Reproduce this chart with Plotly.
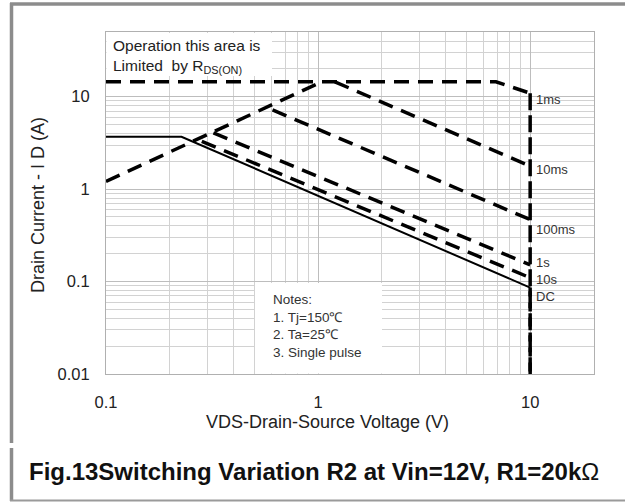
import numpy as np
import plotly.graph_objects as go

# ---------------- data ----------------
rds_v = [0.1, 1.04]
rds_i = [1.21, 14.5]

ms1_v = [0.1, 6.9, 10]
ms1_i = [14.5, 14.5, 10.9]
ms10_v = [1.2, 10]
ms10_i = [14.5, 1.77]
ms100_v = [0.61, 10]
ms100_i = [7.2, 0.468]
s1_v = [0.321, 10]
s1_i = [4.06, 0.152]
s10_v = [0.283, 10]
s10_i = [3.29, 0.11]
dc_v = [0.1, 0.227, 10]
dc_i = [3.69, 3.69, 0.086]
i_floor = 0.01  # bottom of the drop at the 10 V limit

curve_labels = ["1ms", "10ms", "100ms", "1s", "10s", "DC"]
label_i = [9.3, 1.63, 0.37, 0.16, 0.105, 0.069]

x_ticks = [0.1, 1, 10]
x_tick_text = ["0.1", "1", "10"]
y_ticks = [0.01, 0.1, 1, 10]
y_tick_text = ["0.01", "0.1", "1", "10"]

notes_lines = ["Notes:", "1. Tj=150℃", "2. Ta=25℃", "3. Single pulse"]
limit_text = ["Operation this area is", "Limited  by R<sub>DS(ON)</sub>"]
x_title = "VDS-Drain-Source Voltage (V)"
y_title = "Drain Current - I D (A)"
fig_title = "Fig.13Switching Variation R2 at Vin=12V, R1=20k<span style='font-weight:normal'>Ω</span>"

# ---------------- layout geometry ----------------
W, H = 625, 502
ML, MR, MT, MB = 106, 31, 32, 128
PW, PH = W - ML - MR, H - MT - MB


def px(x):
    return (x - ML) / PW


def py(y):
    return (H - MB - y) / PH


FONT = "Liberation Sans, Arial, Helvetica, sans-serif"
DASH = "15px,9px"

fig = go.Figure()

dashed_sets = [(rds_v, rds_i), (ms1_v, ms1_i), (ms10_v, ms10_i), (ms100_v, ms100_i),
               (s1_v, s1_i), (s10_v, s10_i)]
for v, i in dashed_sets:
    fig.add_trace(go.Scatter(x=v, y=i, mode="lines",
                             line=dict(color="black", width=3.5, dash=DASH),
                             hoverinfo="skip"))
fig.add_trace(go.Scatter(x=dc_v, y=dc_i, mode="lines",
                         line=dict(color="black", width=2), hoverinfo="skip"))

# vertical drain-source voltage limit at 10 V (drops of the 1ms and DC curves)
fig.add_trace(go.Scatter(x=[ms1_v[-1], ms1_v[-1]], y=[ms1_i[-1], i_floor], mode="lines",
                         line=dict(color="black", width=3.5, dash="17px,5px"),
                         hoverinfo="skip"))
fig.add_trace(go.Scatter(x=[dc_v[-1], dc_v[-1]], y=[dc_i[-1], i_floor], mode="lines",
                         line=dict(color="black", width=3.5, dash="9px,6px"),
                         hoverinfo="skip"))

# minor grid values
minor_x = [m * 10.0 ** d for d in (-1, 0, 1) for m in range(2, 10) if m * 10.0 ** d <= 20]
minor_y = [m * 10.0 ** d for d in (-2, -1, 0, 1) for m in range(2, 10) if m * 10.0 ** d <= 50]

fig.update_xaxes(type="log", range=[-1, np.log10(20)], tickmode="array",
                 tickvals=x_ticks, ticktext=x_tick_text,
                 showgrid=True, gridcolor="#bdbdbd", gridwidth=1,
                 minor=dict(tickmode="array", tickvals=minor_x, showgrid=True,
                            gridcolor="#d2d2d2", gridwidth=1, ticks=""),
                 showline=True, mirror=True, linecolor="#b0b0b0", linewidth=1,
                 ticks="", zeroline=False, ticklabelstandoff=13,
                 tickfont=dict(size=16.5, color="#222", family=FONT))
fig.update_yaxes(type="log", range=[-2, 1.70], tickmode="array",
                 tickvals=y_ticks, ticktext=y_tick_text,
                 showgrid=True, gridcolor="#bdbdbd", gridwidth=1,
                 minor=dict(tickmode="array", tickvals=minor_y, showgrid=True,
                            gridcolor="#d2d2d2", gridwidth=1, ticks=""),
                 showline=True, mirror=True, linecolor="#b0b0b0", linewidth=1,
                 ticks="", zeroline=False, ticklabelstandoff=12,
                 tickfont=dict(size=16.5, color="#222", family=FONT))

annotations = []
# curve labels at the right of the 10 V line
for txt, iv in zip(curve_labels, label_i):
    annotations.append(dict(x=np.log10(10), y=np.log10(iv), xref="x", yref="y",
                            text=txt, showarrow=False, xanchor="left", xshift=4,
                            font=dict(size=13, color="#333", family=FONT)))

# limited-by-Rds text
annotations.append(dict(x=px(111), y=py(35), xref="paper", yref="paper",
                        text="<br>".join(limit_text), showarrow=False,
                        xanchor="left", yanchor="top", align="left",
                        font=dict(size=15.5, color="#222", family=FONT)))

# notes text
annotations.append(dict(x=px(271), y=py(290), xref="paper", yref="paper",
                        text="<br>".join(notes_lines), showarrow=False,
                        xanchor="left", yanchor="top", align="left",
                        font=dict(size=13.5, color="#333", family=FONT)))

# axis titles
annotations.append(dict(x=px(327), y=py(422), xref="paper", yref="paper",
                        text=x_title, showarrow=False, xanchor="center", yanchor="middle",
                        font=dict(size=18, color="#222", family=FONT)))
annotations.append(dict(x=px(38), y=py(205), xref="paper", yref="paper",
                        text=y_title, showarrow=False, textangle=-90,
                        xanchor="center", yanchor="middle",
                        font=dict(size=18, color="#222", family=FONT)))
# figure caption
annotations.append(dict(x=px(27), y=py(471), xref="paper", yref="paper",
                        text="<b>" + fig_title + "</b>", showarrow=False,
                        xanchor="left", yanchor="middle",
                        font=dict(size=24, color="#111", family=FONT)))

# white boxes behind the two texts, and the outer gray frame
frame_col = "#8c8c8c"
shapes = [
    dict(type="rect", xref="paper", yref="paper", x0=px(106.5), x1=px(272), y0=py(33), y1=py(76),
         fillcolor="white", line=dict(width=0), layer="above"),
    dict(type="rect", xref="paper", yref="paper", x0=px(255), x1=px(382), y0=py(283), y1=py(373.5),
         fillcolor="white", line=dict(width=0), layer="above"),
    dict(type="line", xref="paper", yref="paper", x0=px(10), x1=px(625), y0=py(4), y1=py(4),
         line=dict(color=frame_col, width=3.5)),
    dict(type="line", xref="paper", yref="paper", x0=px(11.5), x1=px(11.5), y0=py(3), y1=py(443),
         line=dict(color=frame_col, width=3.5)),
    dict(type="line", xref="paper", yref="paper", x0=px(11.5), x1=px(11.5), y0=py(448), y1=py(501),
         line=dict(color=frame_col, width=3.5)),
    dict(type="line", xref="paper", yref="paper", x0=px(10), x1=px(625), y0=py(500.5), y1=py(500.5),
         line=dict(color="#9a9a9a", width=2)),
]

fig.update_layout(width=W, height=H, margin=dict(l=ML, r=MR, t=MT, b=MB, pad=0),
                  paper_bgcolor="white", plot_bgcolor="white", showlegend=False,
                  font=dict(family=FONT, color="#222"),
                  annotations=annotations, shapes=shapes)

fig.write_html("out.html", config={"displayModeBar": False},
               post_script="document.body.style.margin='0';")
